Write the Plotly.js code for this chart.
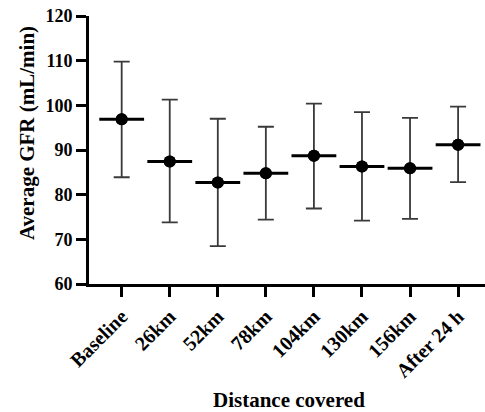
<!DOCTYPE html>
<html>
<head>
<meta charset="utf-8">
<script src="https://cdn.plot.ly/plotly-3.0.1.min.js"></script>
<style>html,body{margin:0;padding:0;background:#fff;}#chart{width:485px;height:412px;}</style>
</head>
<body>
<div id="chart"></div>
<script>
const categories = ["Baseline", "26km", "52km", "78km", "104km", "130km", "156km", "After 24 h"];
const means = [96.9, 87.4, 82.7, 84.8, 88.7, 86.3, 85.9, 91.2];
const upper = [109.8, 101.3, 97.0, 95.2, 100.4, 98.5, 97.2, 99.7];
const lower = [83.9, 73.8, 68.5, 74.4, 76.9, 74.2, 74.6, 82.8];
const xTitle = "Distance covered";
const yTitle = "Average GFR (mL/min)";

const xIdx = categories.map((c, i) => i);
const errPlus = upper.map((u, i) => +(u - means[i]).toFixed(2));
const errMinus = lower.map((l, i) => +(means[i] - l).toFixed(2));

const font = {family: "Liberation Serif, Times New Roman, serif", color: "#000", weight: "bold"};

const traces = [
  {
    x: xIdx, y: means, type: "scatter", mode: "markers",
    marker: {color: "#000", size: 12, symbol: "circle"},
    error_y: {type: "data", symmetric: false, array: errPlus, arrayminus: errMinus,
              color: "#3a3a3a", thickness: 1.8, width: 8},
    hoverinfo: "skip", showlegend: false
  },
  {
    x: xIdx, y: means, type: "scatter", mode: "markers",
    marker: {symbol: "line-ew", size: 32, color: "#000", line: {color: "#000", width: 3}},
    hoverinfo: "skip", showlegend: false
  },
  {
    x: xIdx, y: means, type: "scatter", mode: "markers",
    marker: {color: "#000", size: 12, symbol: "circle"},
    hoverinfo: "skip", showlegend: false
  }
];

const layout = {
  width: 485, height: 412,
  margin: {l: 89, r: 0, t: 16, b: 128},
  paper_bgcolor: "#fff", plot_bgcolor: "#fff",
  font: font,
  xaxis: {
    range: [-0.68, 7.56],
    tickmode: "array", tickvals: xIdx, ticktext: categories,
    tickangle: -45,
    showline: true, linecolor: "#000", linewidth: 3,
    ticks: "outside", ticklen: 10, tickwidth: 3, tickcolor: "#000",
    showgrid: false, zeroline: false,
    tickfont: Object.assign({}, font, {size: 20})
  },
  yaxis: {
    range: [60, 120], dtick: 10, tick0: 60,
    showline: true, linecolor: "#000", linewidth: 3,
    ticks: "outside", ticklen: 10, tickwidth: 3, tickcolor: "#000",
    showgrid: false, zeroline: false,
    tickfont: Object.assign({}, font, {size: 18})
  },
  annotations: [
    {text: xTitle, xref: "paper", yref: "paper", x: 0.505, y: 0, yshift: -116,
     xanchor: "center", yanchor: "middle", showarrow: false,
     font: Object.assign({}, font, {size: 21})},
    {text: yTitle, xref: "paper", yref: "paper", x: 0, xshift: -62, y: 0.563,
     xanchor: "center", yanchor: "middle", textangle: -90, showarrow: false,
     font: Object.assign({}, font, {size: 21})}
  ]
};

Plotly.newPlot("chart", traces, layout, {displayModeBar: false, staticPlot: true});
</script>
</body>
</html>
